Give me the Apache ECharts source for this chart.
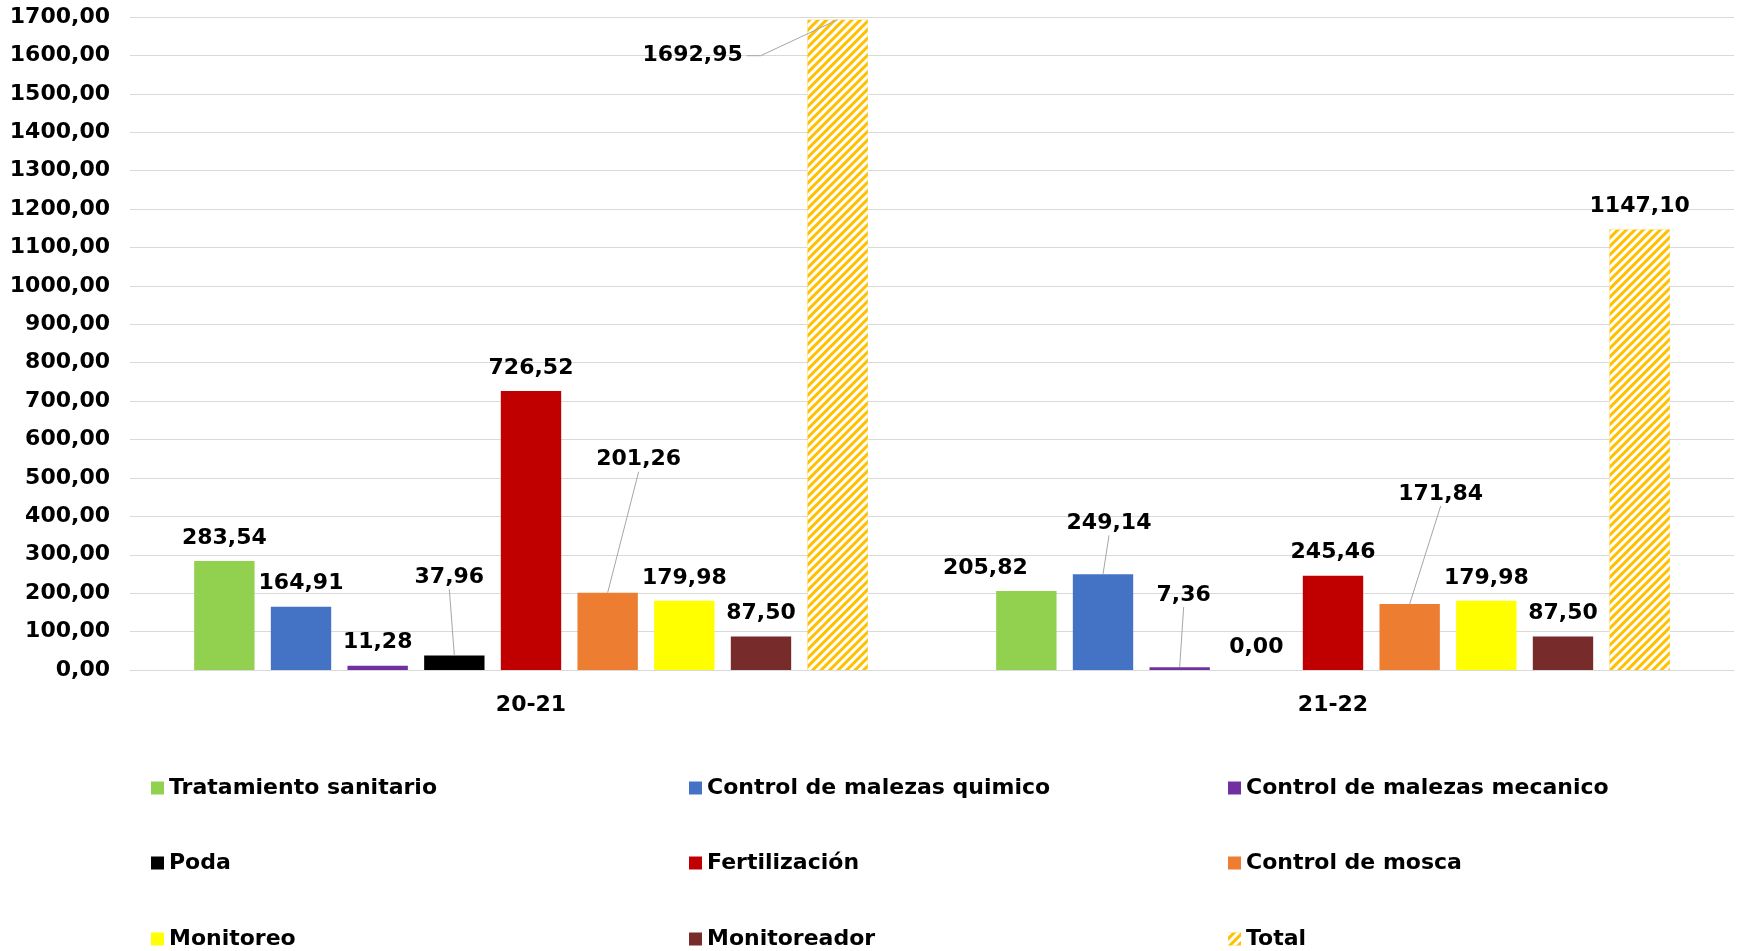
<!DOCTYPE html>
<html>
<head>
<meta charset="utf-8">
<script src="https://cdn.jsdelivr.net/npm/echarts@6/dist/echarts.min.js"></script>
<style>
  html, body { margin: 0; padding: 0; background: #fff; }
  #chart { width: 1742px; height: 951px; }
</style>
</head>
<body>
<div id="chart"></div>
<script>
// temporadas
var seasons = ['20-21', '21-22'];

// valores por actividad (20-21, 21-22)
var tratamientoSanitario = [283.54, 205.82];
var malezasQuimico = [164.91, 249.14];
var malezasMecanico = [11.28, 7.36];
var poda = [37.96, 0.00];
var fertilizacion = [726.52, 245.46];
var controlMosca = [201.26, 171.84];
var monitoreo = [179.98, 179.98];
var monitoreador = [87.50, 87.50];
var total = [1692.95, 1147.10];

var seriesNames = ['Tratamiento sanitario', 'Control de malezas quimico', 'Control de malezas mecanico',
  'Poda', 'Fertilización', 'Control de mosca', 'Monitoreo', 'Monitoreador', 'Total'];
var seriesValues = [tratamientoSanitario, malezasQuimico, malezasMecanico, poda, fertilizacion,
  controlMosca, monitoreo, monitoreador, total];
var seriesColors = ['#92D050', '#4472C4', '#7030A0', '#000000', '#C00000', '#ED7D31', '#FFFF00', '#772B2B', '#FFC000'];

// etiquetas desplazadas (dx, dy, linea guia)
var labelMoves = {
  'Poda': [[-5, -55, true], null],
  'Control de mosca': [[31, -110, true], [31, -87, true]],
  'Total': [[-145, 59, true], null],
  'Tratamiento sanitario': [null, [-41, 0, false]],
  'Control de malezas quimico': [null, [6, -28, true]],
  'Control de malezas mecanico': [null, [4, -49, true]]
};

var FONT = 'DejaVu Sans';
var FS = 22;
var LABEL_DIST = 12;
var BAR_GAP = 0.27, CAT_GAP = 0.16;
var fmt = function (v) { return Number(v).toFixed(2).replace('.', ','); };

var chart = echarts.init(document.getElementById('chart'));

var series = seriesNames.map(function (name, si) {
  var moves = labelMoves[name] || [];
  var itemStyle = { color: seriesColors[si] };
  if (name === 'Total') {
    itemStyle.decal = {
      symbol: 'rect',
      color: '#ffffff',
      dashArrayX: [1, 0],
      dashArrayY: [3, 3],
      symbolSize: 1,
      rotation: -Math.PI / 4
    };
  }
  return {
    name: name,
    type: 'bar',
    barGap: (BAR_GAP * 100) + '%',
    barCategoryGap: (CAT_GAP * 100) + '%',
    data: seriesValues[si],
    itemStyle: itemStyle,
    label: {
      show: true,
      position: 'top',
      distance: LABEL_DIST,
      color: '#000',
      fontFamily: FONT,
      fontWeight: 'bold',
      fontSize: FS,
      formatter: function (p) { return fmt(p.value); }
    },
    labelLayout: function (p) {
      var m = moves[p.dataIndex];
      return m ? { dx: m[0], dy: m[1] } : {};
    },
    emphasis: { disabled: true }
  };
});

// lineas guia de las etiquetas movidas
var leaderData = [];
seriesNames.forEach(function (name, si) {
  (labelMoves[name] || []).forEach(function (m, ci) {
    if (m && m[2]) leaderData.push([ci, si, seriesValues[si][ci], m[0], m[1]]);
  });
});
var nBars = seriesNames.length;
series.push({
  type: 'custom',
  silent: true,
  z: 5,
  data: leaderData,
  renderItem: function (params, api) {
    var si = api.value(1), dx = api.value(3), dy = api.value(4);
    var p = api.coord([api.value(0), api.value(2)]);
    var band = api.size([1, 0])[0];
    var bw = band * (1 - CAT_GAP) / (nBars + (nBars - 1) * BAR_GAP);
    var bx = p[0] + (si - (nBars - 1) / 2) * bw * (1 + BAR_GAP);
    var by = p[1];
    var lx = bx + dx;
    var lBottom = by - LABEL_DIST + dy;
    var pts;
    if (si === nBars - 1) {
      var cy = lBottom - FS / 2;
      var half = 54;
      pts = [[lx + half, cy], [lx + half + 14, cy], [bx, by]];
    } else {
      pts = [[lx, lBottom + 1], [bx, by]];
    }
    return {
      type: 'polyline',
      shape: { points: pts },
      style: { stroke: '#a6a6a6', lineWidth: 1, fill: null }
    };
  }
});

// leyenda en 3 columnas
var legendCols = [146, 684, 1223];
var legendRows = [772, 847, 923];
var legends = seriesNames.map(function (name, i) {
  return {
    data: [name],
    left: legendCols[i % 3],
    top: legendRows[Math.floor(i / 3)],
    icon: 'rect',
    itemWidth: 13,
    itemHeight: 13,
    selectedMode: false,
    textStyle: { fontFamily: FONT, fontWeight: 'bold', fontSize: FS, color: '#000' }
  };
});

var option = {
  animation: false,
  backgroundColor: '#fff',
  grid: { left: 130, right: 8, top: 17, bottom: 281 },
  legend: legends,
  xAxis: {
    type: 'category',
    data: seasons,
    axisTick: { show: false },
    axisLine: { lineStyle: { color: '#d9d9d9', width: 1 } },
    axisLabel: { margin: 24, color: '#000', fontFamily: FONT, fontWeight: 'bold', fontSize: FS }
  },
  yAxis: {
    type: 'value',
    min: 0,
    max: 1700,
    interval: 100,
    axisLine: { show: false },
    axisTick: { show: false },
    splitLine: { lineStyle: { color: '#d9d9d9', width: 1 } },
    axisLabel: {
      margin: 20,
      color: '#000',
      fontFamily: FONT,
      fontWeight: 'bold',
      fontSize: FS,
      formatter: function (v) { return fmt(v); }
    }
  },
  series: series
};

chart.setOption(option);
</script>
</body>
</html>
